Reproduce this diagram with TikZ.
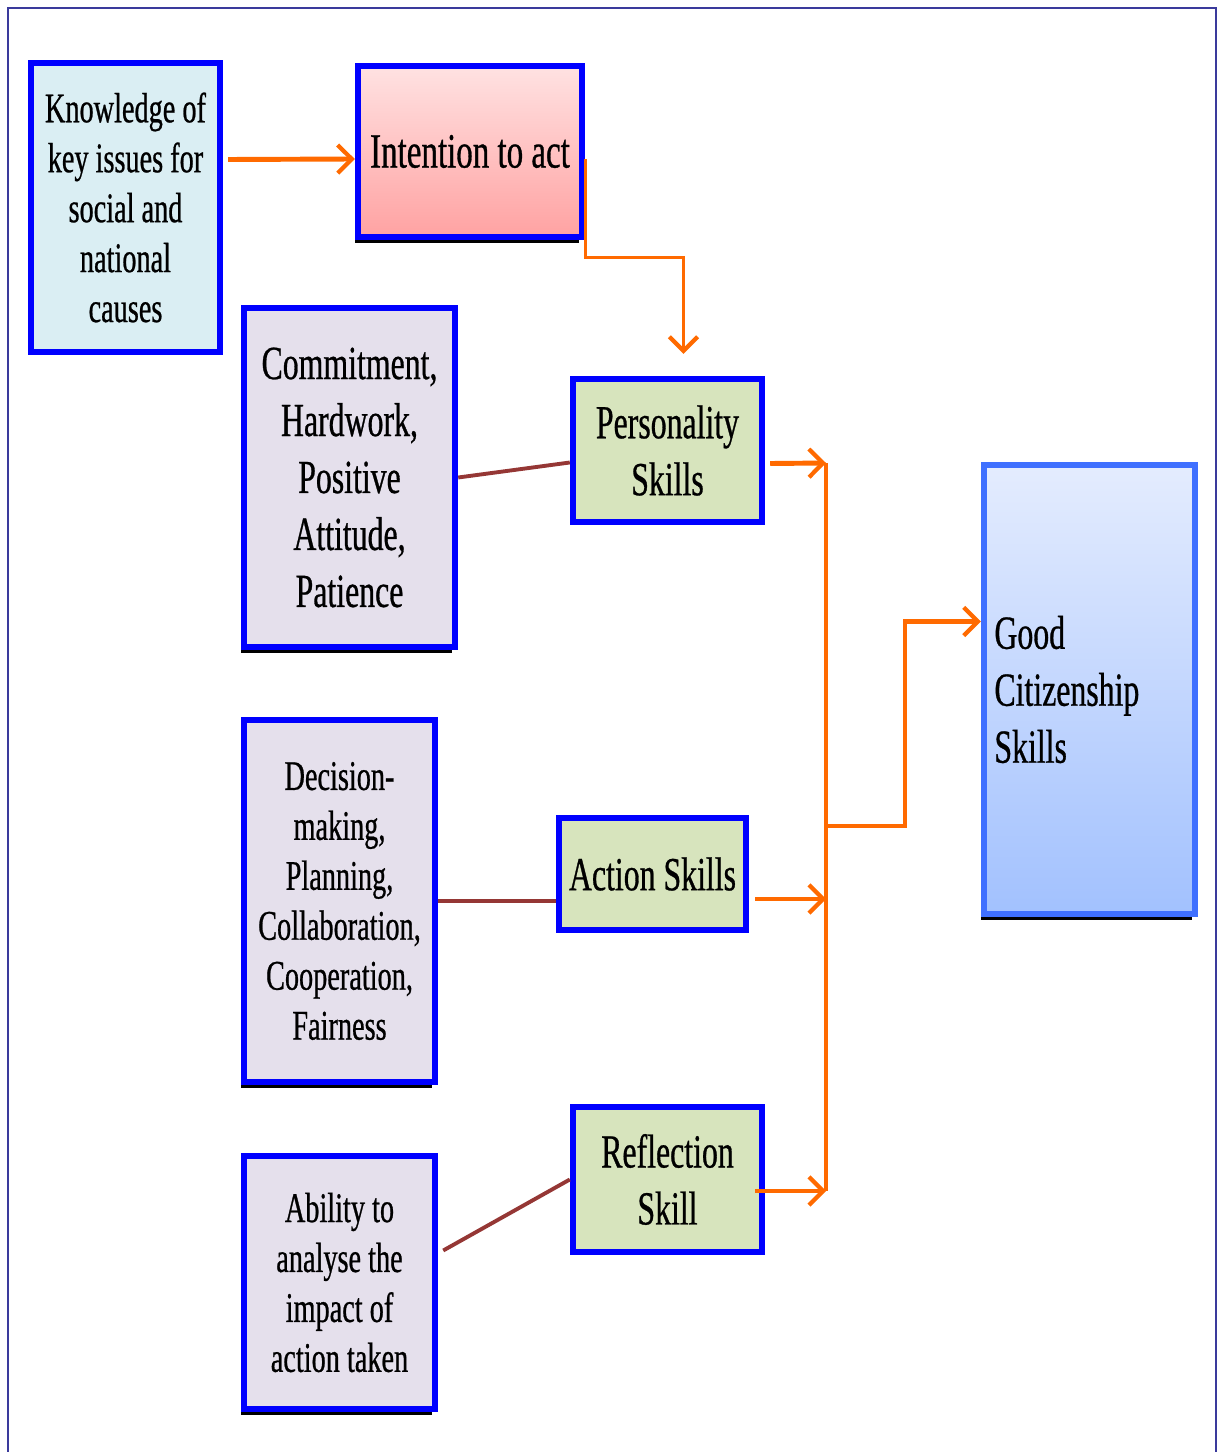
\documentclass[tikz,border=0pt]{standalone}
\usepackage{fontspec}
\setmainfont[FakeStretch=0.67, FakeBold=0.6]{Liberation Serif}
\usepackage{xcolor}
\usetikzlibrary{calc, arrows.meta, shadows}

\definecolor{edge blue}{HTML}{0000FF}
\definecolor{goal edge}{HTML}{3F70FF}
\definecolor{frame navy}{HTML}{3A3A9C}
\definecolor{flow orange}{HTML}{FF6A00}
\definecolor{link brown}{HTML}{953735}
\definecolor{know fill}{HTML}{DAEEF3}
\definecolor{trait fill}{HTML}{E5E0EC}
\definecolor{skill fill}{HTML}{D7E4BD}
\definecolor{intent top}{HTML}{FFE2E2}
\definecolor{intent bottom}{HTML}{FFA2A2}
\definecolor{goal top}{HTML}{E4ECFE}
\definecolor{goal bottom}{HTML}{A2C1FE}

\begin{document}
\begin{tikzpicture}[x = 0.01cm, y = -0.01cm,
		box/.style = {draw = edge blue, line width = 1.8pt, align = center, inner sep = 0pt, text = black},
		shadow box/.style = {box, drop shadow = {shadow xshift = -0.8pt, shadow yshift = -1.7pt, fill = black, opacity = 1}},
		small text/.style = {font = \fontsize{12}{14.2}\selectfont},
		large text/.style = {font = \fontsize{13.5}{16.2}\selectfont},
		flow/.style = {draw = flow orange, line width = 1.4pt, -{Straight Barb[length = 4pt, width = 8pt, line width = 1.2pt]}},
		thin flow/.style = {flow, line width = 0.9pt},
		trunk/.style = {draw = flow orange, line width = 0.9pt},
		link/.style = {draw = link brown, line width = 1.1pt}]
		
		\useasboundingbox (0,0) rectangle (1218,1452);
		
		\draw [frame navy, line width = 0.6pt] (8,1452) -- (8,8) -- (1216,8) -- (1216,1452);
		
		\node (know) [box, small text, fill = know fill, minimum width = 1.89cm, minimum height = 2.89cm] at (125.5,207.5) {Knowledge of\\key issues for\\social and\\national\\causes};
		
		\node (intent) [shadow box, font = \fontsize{14}{16.8}\selectfont, top color = intent top, bottom color = intent bottom, minimum width = 2.24cm, minimum height = 1.71cm] at (470,151.5) {Intention to act};
		
		\node (commit) [shadow box, large text, fill = trait fill, minimum width = 2.11cm, minimum height = 3.39cm] at (349.5,477.5) {Commitment,\\Hardwork,\\Positive\\Attitude,\\Patience};
		
		\node (pers) [box, large text, fill = skill fill, minimum width = 1.89cm, minimum height = 1.43cm] at (667.5,450.5) {Personality\\Skills};
		
		\node (decide) [shadow box, small text, fill = trait fill, minimum width = 1.91cm, minimum height = 3.62cm] at (339.5,901) {Decision-\\making,\\Planning,\\Collaboration,\\Cooperation,\\Fairness};
		
		\node (action) [box, large text, fill = skill fill, minimum width = 1.87cm, minimum height = 1.12cm] at (652.5,874) {Action Skills};
		
		\node (ability) [shadow box, small text, fill = trait fill, minimum width = 1.91cm, minimum height = 2.53cm] at (339.5,1282.5) {Ability to\\analyse the\\impact of\\action taken};
		
		\node (reflect) [box, large text, fill = skill fill, minimum width = 1.89cm, minimum height = 1.45cm] at (667.5,1179.5) {Reflection\\Skill};
		
		\node (good) [shadow box, large text, draw = goal edge, top color = goal top, bottom color = goal bottom, align = left, text width = 1.90cm, inner xsep = 0.105cm, minimum height = 4.49cm] at (1089.5,689.5) {Good\\Citizenship\\Skills};
		
		\coordinate (trunk top) at (826,463);
		\coordinate (trunk action) at (826,899);
		\coordinate (trunk bottom) at (826,1191);
		\coordinate (trunk join) at (826,826);
		\coordinate (bend) at (905,826);
		
		\draw [flow] ($ (know.east) + (5,-48) $) -- ($ (intent.west) + (0,7.5) $);
		
		\draw [thin flow] ($ (intent.east) + (0,8) $) -- ++(0,98) -| ($ (pers.north) + (16,-22) $);
		
		\draw [link] (commit.east) -- ($ (pers.west) + (0,12) $);
		\draw [link] (decide.east) -- (decide.east -| action.west);
		\draw [link] ($ (ability.east) + (5,-32) $) -- (reflect.west);
		
		\draw [flow] ($ (pers.east) + (5,13) $) -- (trunk top);
		\draw [flow] ($ (action.east) + (6,25) $) -- (trunk action);
		\draw [flow] ($ (reflect.east) + (-10,11.5) $) -- (trunk bottom);
		
		\draw [trunk] (trunk top) -- (trunk bottom);
		
		\draw [flow] (trunk join) -- (bend) |- ($ (good.west) + (0,-68) $);
	\end{tikzpicture}
\end{document}
